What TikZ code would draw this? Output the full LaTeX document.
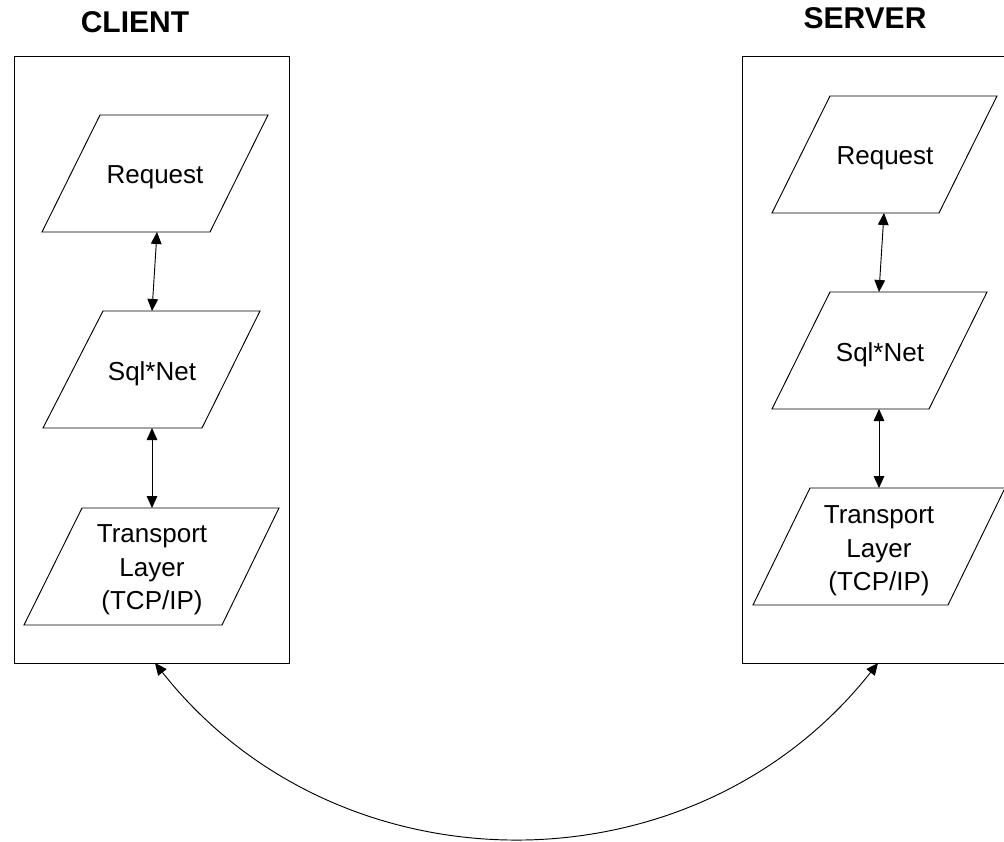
\documentclass[tikz,border=0pt]{standalone}
\usepackage{fontspec}
\setmainfont{Liberation Sans}
\usetikzlibrary{arrows.meta,calc}
\begin{document}
\begin{tikzpicture}[x=0.75pt,y=-0.75pt,
  frame/.style={draw=black,line width=0.7pt},
  para/.style={draw=black,line width=0.7pt,line join=miter},
  lbl/.style={font=\fontsize{19.5}{25}\selectfont,inner sep=0pt,align=center},
  ttl/.style={font=\fontsize{22.5}{27}\selectfont\bfseries,inner sep=0pt},
  link/.style={line width=0.7pt,{Triangle[length=9pt,width=8pt]}-{Triangle[length=9pt,width=8pt]}}]
\useasboundingbox (0,0) rectangle (1004,842);
\clip (0,0) rectangle (1004,842);

% titles
\node[ttl] (clientT) at (135,22.5) {CLIENT};
\node[ttl] (serverT) at (865,18) {SERVER};

% outer boxes
\draw[frame] (14,56) rectangle (289,663);
\draw[frame] (742,56) rectangle (1012,663);

% client shapes
\draw[para] (100,115) -- (268,115) -- (210,232) -- (42,232) -- cycle;
\node[lbl,anchor=base] (creq) at (155,183) {Request};
\draw[para] (103,311) -- (260,311) -- (202,428) -- (43,428) -- cycle;
\node[lbl,anchor=base] (csql) at (152,380) {Sql*Net};
\draw[para] (82,508) -- (279,508) -- (222,625) -- (24,625) -- cycle;
\node[lbl] (ctrn) at (152,570) {Transport\\Layer\\(TCP/IP)};

% server shapes
\draw[para] (830,96) -- (997,96) -- (939,213) -- (772,213) -- cycle;
\node[lbl,anchor=base] (sreq) at (885,164) {Request};
\draw[para] (830,292) -- (987,292) -- (929,409) -- (772,409) -- cycle;
\node[lbl,anchor=base] (ssql) at (880,361) {Sql*Net};
\draw[para] (810,488) -- (1005,488) -- (948,605) -- (753,605) -- cycle;
\node[lbl] (strn) at (879,551) {Transport\\Layer\\(TCP/IP)};

% connector end points
\coordinate (creqB) at (157,232);
\coordinate (csqlT) at (152,311);
\coordinate (csqlB) at (152,428);
\coordinate (ctrnT) at (152,508);
\coordinate (sreqB) at (884,213);
\coordinate (ssqlT) at (879,292);
\coordinate (ssqlB) at (879,409);
\coordinate (strnT) at (879,488);
\coordinate (cboxB) at (155,663);
\coordinate (sboxB) at (878,663);

\draw[link] (creqB) -- (csqlT);
\draw[link] (csqlB) -- (ctrnT);
\draw[link] (sreqB) -- (ssqlT);
\draw[link] (ssqlB) -- (strnT);
\draw[link] (cboxB) .. controls ($(cboxB)+(184,233)$) and ($(sboxB)+(-184,233)$) .. (sboxB);
\end{tikzpicture}
\end{document}
